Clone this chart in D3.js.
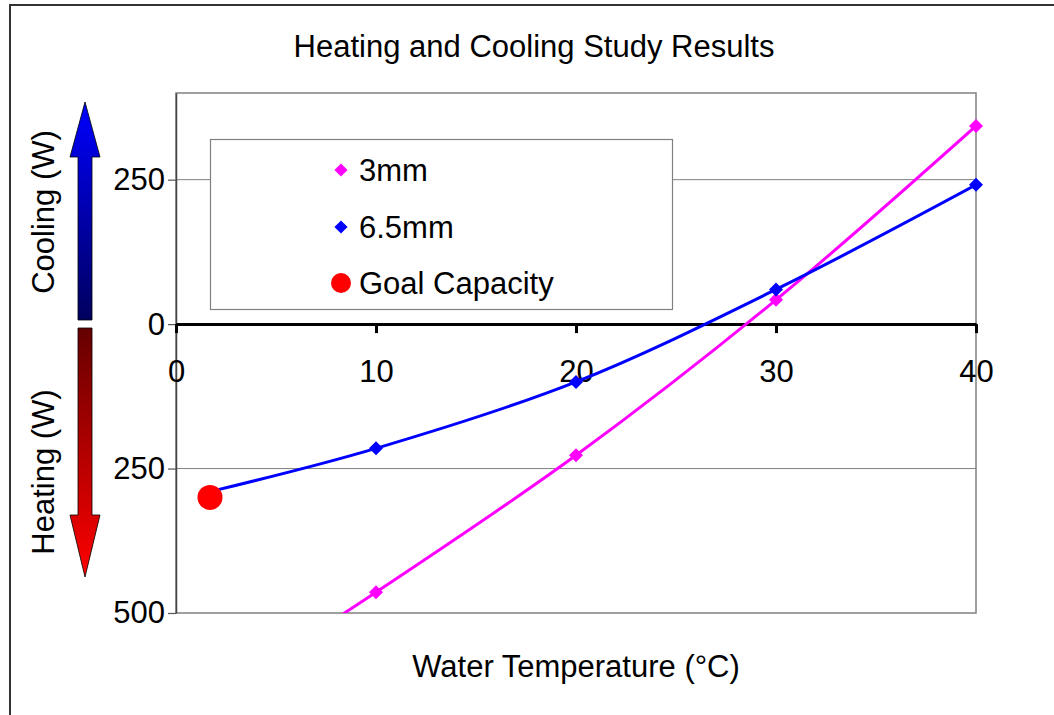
<!DOCTYPE html>
<html><head><meta charset="utf-8">
<script src="https://cdn.jsdelivr.net/npm/d3@7"></script>
<style>body{margin:0;background:#fff}svg{display:block;font-family:"Liberation Sans",Arial,sans-serif}</style>
</head><body><svg id="c" width="1054" height="715"></svg>
<script>
const xTicks = [0, 10, 20, 30, 40];
const yTicks = [-500, -250, 0, 250];
const temps3mm = [1.7, 10, 20, 30, 40];
const vals3mm = [-650, -464, -227, 42, 343];
const temps65mm = [1.7, 10, 20, 30, 40];
const vals65mm = [-290, -215, -100, 60, 241];
const goalTemp = [1.7];
const goalVal = [-300];
const seriesNames = ["3mm", "6.5mm", "Goal Capacity"];
const seriesColors = ["#ff00ff", "#0000ff", "#ff0000"];

const FS = 31;
const svg = d3.select("#c");
const L = 176, R = 976, T = 93, B = 613;
const x = d3.scaleLinear().domain([0, 40]).range([L, R]);
const y = d3.scaleLinear().domain([-500, 400]).range([B, T]);

// outer frame
svg.append("rect").attr("x", 10).attr("y", 5).attr("width", 1100).attr("height", 800)
  .attr("fill", "none").attr("stroke", "#333").attr("stroke-width", 2);

svg.append("text").attr("x", 534).attr("y", 57).attr("text-anchor", "middle")
  .attr("font-size", FS).text("Heating and Cooling Study Results");

// gridlines
svg.append("g").selectAll("line").data([250, -250]).join("line")
  .attr("x1", L).attr("x2", R).attr("y1", d => y(d)).attr("y2", d => y(d))
  .attr("stroke", "#808080").attr("stroke-width", 1);

// plot border
svg.append("rect").attr("x", L).attr("y", T).attr("width", R - L).attr("height", B - T)
  .attr("fill", "none").attr("stroke", "#808080").attr("stroke-width", 1.5);

// y axis
const yAxis = d3.axisLeft(y).tickValues(yTicks).tickSize(8).tickSizeOuter(0).tickFormat(d => Math.abs(d));
const yg = svg.append("g").attr("transform", `translate(${L},0)`).call(yAxis);
yg.select(".domain").attr("stroke", "#444").attr("stroke-width", 1.5);
yg.selectAll(".tick line").attr("stroke", "#555").attr("stroke-width", 1.2);
yg.selectAll(".tick text").attr("font-size", FS).attr("font-family", "Liberation Sans, Arial, sans-serif")
  .attr("fill", "#000").attr("x", -11);

// x axis on zero line
const xAxis = d3.axisBottom(x).tickValues(xTicks).tickSize(9).tickSizeOuter(0);
const xg = svg.append("g").attr("transform", `translate(0,${y(0)})`).call(xAxis);
xg.select(".domain").attr("stroke", "#000").attr("stroke-width", 3);
xg.selectAll(".tick line").attr("stroke", "#000").attr("stroke-width", 3);
xg.selectAll(".tick text").attr("font-size", FS).attr("font-family", "Liberation Sans, Arial, sans-serif")
  .attr("fill", "#000").attr("y", 36).attr("dy", "0.71em");

// legend
const lg = svg.append("g");
lg.append("rect").attr("x", 210.5).attr("y", 139.5).attr("width", 462).attr("height", 170)
  .attr("fill", "#fff").attr("stroke", "#808080").attr("stroke-width", 1.2);
const legY = [170, 227, 283];
const diamond = d3.symbol().type(d3.symbolDiamond2);
seriesNames.forEach((n, i) => {
  if (i < 2) {
    lg.append("path").attr("d", diamond.size(110)()).attr("transform", `translate(341,${legY[i]})`)
      .attr("fill", seriesColors[i]);
  } else {
    lg.append("circle").attr("cx", 341).attr("cy", legY[i]).attr("r", 10).attr("fill", seriesColors[i]);
  }
  lg.append("text").attr("x", 359).attr("y", legY[i]).attr("dy", "0.36em").attr("font-size", FS).text(n);
});

// clip
svg.append("clipPath").attr("id", "clip").append("rect").attr("x", L).attr("y", T).attr("width", R - L).attr("height", B - T);
const plot = svg.append("g").attr("clip-path", "url(#clip)");
const line = d3.line().x(d => x(d[0])).y(d => y(d[1])).curve(d3.curveCatmullRom.alpha(0.5));
const s1 = temps3mm.map((t, i) => [t, vals3mm[i]]);
const s2 = temps65mm.map((t, i) => [t, vals65mm[i]]);
plot.append("path").datum(s1).attr("d", line).attr("fill", "none").attr("stroke", seriesColors[0]).attr("stroke-width", 3);
plot.append("path").datum(s2).attr("d", line).attr("fill", "none").attr("stroke", seriesColors[1]).attr("stroke-width", 3);
const mk = svg.append("g");
[[s1, 0], [s2, 1]].forEach(([s, i]) => {
  mk.selectAll(null).data(s.filter(d => d[0] >= 5)).join("path")
    .attr("d", diamond.size(125)())
    .attr("transform", d => `translate(${x(d[0])},${y(d[1])})`)
    .attr("fill", seriesColors[i]);
});
mk.selectAll(null).data(goalTemp.map((t, i) => [t, goalVal[i]])).join("circle")
  .attr("cx", d => x(d[0])).attr("cy", d => y(d[1])).attr("r", 12.5).attr("fill", seriesColors[2]);

// axis title
svg.append("text").attr("x", 576).attr("y", 677).attr("text-anchor", "middle")
  .attr("font-size", FS).text("Water Temperature (°C)");

// arrows
const defs = svg.append("defs");
const gb = defs.append("linearGradient").attr("id", "gb").attr("x1", 0).attr("y1", 0).attr("x2", 0).attr("y2", 1);
gb.append("stop").attr("offset", "0%").attr("stop-color", "#0000ff");
gb.append("stop").attr("offset", "100%").attr("stop-color", "#00005e");
const gr = defs.append("linearGradient").attr("id", "gr").attr("x1", 0).attr("y1", 0).attr("x2", 0).attr("y2", 1);
gr.append("stop").attr("offset", "0%").attr("stop-color", "#650000");
gr.append("stop").attr("offset", "100%").attr("stop-color", "#ff0000");
const cx = 85;
svg.append("path").attr("d", `M${cx},102 L${cx + 15},157 L${cx + 7},157 L${cx + 7},320 L${cx - 7},320 L${cx - 7},157 L${cx - 15},157 Z`)
  .attr("fill", "url(#gb)").attr("stroke", "#000").attr("stroke-width", 0.8);
svg.append("path").attr("d", `M${cx - 7},328 L${cx + 7},328 L${cx + 7},515 L${cx + 15},515 L${cx},577 L${cx - 15},515 L${cx - 7},515 Z`)
  .attr("fill", "url(#gr)").attr("stroke", "#000").attr("stroke-width", 0.8);

svg.append("text").attr("transform", "translate(54,212) rotate(-90)").attr("text-anchor", "middle")
  .attr("font-size", FS).text("Cooling (W)");
svg.append("text").attr("transform", "translate(54,472) rotate(-90)").attr("text-anchor", "middle")
  .attr("font-size", FS).text("Heating (W)");
</script></body></html>
